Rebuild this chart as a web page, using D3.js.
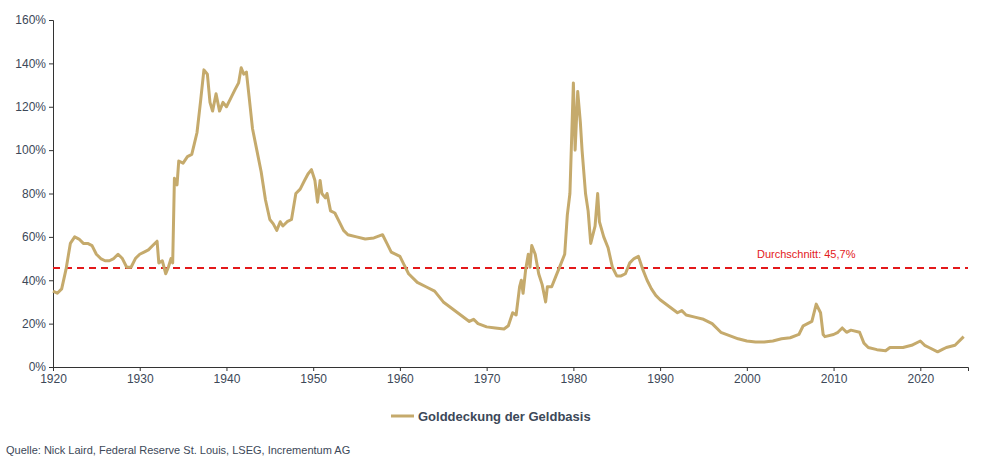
<!DOCTYPE html>
<html>
<head>
<meta charset="utf-8">
<script src="https://cdn.jsdelivr.net/npm/d3@7"></script>
<style>
body { margin: 0; background: #fff; font-family: "Liberation Sans", Arial, sans-serif; }
</style>
</head>
<body>
<svg id="chart" width="996" height="460"></svg>
<script>
// data (year, coverage %)
var years = [1920,1920.5,1921,1921.5,1922,1922.5,1923,1923.5,1924,1924.5,1925,1925.5,1926,1926.5,1927,1927.5,1928,1928.5,1929,1929.5,1930,1930.5,1931,1931.5,1932,1932.2,1932.6,1933,1933.3,1933.6,1933.8,1934,1934.3,1934.5,1935,1935.5,1936,1936.3,1936.6,1937,1937.4,1937.8,1938.1,1938.4,1938.8,1939.2,1939.6,1940,1940.5,1941,1941.4,1941.7,1942,1942.3,1942.6,1943,1943.5,1944,1944.5,1945,1945.4,1945.8,1946.2,1946.5,1947,1947.5,1948,1948.5,1949,1949.4,1949.8,1950.2,1950.5,1950.8,1951,1951.4,1951.6,1952,1952.5,1953,1953.5,1954,1955,1956,1957,1958,1958.5,1959,1960,1960.5,1961,1962,1963,1964,1965,1966,1967,1968,1968.5,1969,1970,1971,1972,1972.5,1973,1973.4,1973.8,1974,1974.2,1974.5,1974.8,1975,1975.2,1975.6,1976,1976.4,1976.8,1977,1977.5,1978,1978.5,1979,1979.3,1979.6,1980,1980.2,1980.5,1980.8,1981,1981.4,1981.7,1982,1982.5,1982.8,1983,1983.5,1984,1984.5,1985,1985.5,1986,1986.5,1987,1987.5,1988,1988.5,1989,1989.5,1990,1991,1992,1992.5,1993,1994,1995,1996,1997,1998,1999,2000,2001,2002,2003,2004,2005,2006,2006.5,2007,2007.5,2008,2008.5,2008.8,2009,2010,2010.5,2011,2011.5,2012,2013,2013.5,2014,2015,2016,2016.5,2017,2018,2019,2020,2020.5,2021,2022,2022.5,2023,2024,2025];
var coverage = [35,34,36,45,57,60,59,57,57,56,52,50,49,49,50,52,50,46,46,50,52,53,54,56,58,48,49,43,46,50,48,87,84,95,94,97,98,103,108,122,137,135,122,118,126,118,122,120,124,128,131,138,135,136,125,110,100,90,77,68,66,63,67,65,67,68,80,82,86,89,91,86,76,86,80,78,80,72,71,67,63,61,60,59,59.5,61,57,53,51,47,43,39,37,35,30,27,24,21,22,20,18.5,18,17.5,19,25,24,37,40,34,45,52,46,56,52,43,38,30,37,37,42,47,52,70,80,131,100,127,113,100,80,72,57,65,80,67,60,55,46,42,42,43,48,50,51,45,40,36,33,31,28,25,26,24,23,22,20,16,14.5,13,12,11.5,11.5,12,13,13.5,15,19,20,21,29,25,15,14,15,16,18,16,17,16,11,9,8,7.5,9,9,9,10,12,10,9,7,8,9,10,14];
var average = 45.7;
var xTicks = [1920,1930,1940,1950,1960,1970,1980,1990,2000,2010,2020];
var yTicks = [0,20,40,60,80,100,120,140,160];

var svg = d3.select("#chart");
var plotLeft = 53, plotRight = 968, plotTop = 20, plotBottom = 367;

var x = d3.scaleLinear().domain([1920, 2025.5]).range([plotLeft, plotRight]);
var y = d3.scaleLinear().domain([0, 160]).range([plotBottom, plotTop]);

var ax = "#3c4858";

// y axis
var yAxis = svg.append("g").attr("transform", "translate(" + plotLeft + ",0)")
  .call(d3.axisLeft(y).tickValues(yTicks).tickSize(4).tickFormat(function(d) { return d + "%"; }));
// x axis
var xAxis = svg.append("g").attr("transform", "translate(0," + plotBottom + ")")
  .call(d3.axisBottom(x).tickValues(xTicks).tickSize(4).tickFormat(d3.format("d")));
[yAxis, xAxis].forEach(function(g) {
  g.select(".domain").attr("stroke", "#333");
  g.selectAll(".tick line").attr("stroke", "#333");
  g.selectAll("text").attr("fill", ax).style("font-size", "12px").style("font-family", "Liberation Sans, Arial, sans-serif");
});

// average line
svg.append("line")
  .attr("x1", plotLeft).attr("x2", plotRight)
  .attr("y1", y(average)).attr("y2", y(average))
  .attr("stroke", "#e3191b").attr("stroke-width", 2).attr("stroke-dasharray", "7,5");
svg.append("text").attr("x", 757).attr("y", y(average) - 10)
  .attr("fill", "#e3191b").style("font-size", "11px").text("Durchschnitt: 45,7%");

var pts = years.map(function(d, i) { return [d, coverage[i]]; });
svg.append("path").datum(pts)
  .attr("fill", "none").attr("stroke", "#c5aa6c").attr("stroke-width", 3)
  .attr("stroke-linejoin", "round")
  .attr("d", d3.line().x(function(d) { return x(d[0]); }).y(function(d) { return y(d[1]); }));

// legend
svg.append("line").attr("x1", 391).attr("x2", 414).attr("y1", 416).attr("y2", 416)
  .attr("stroke", "#c5aa6c").attr("stroke-width", 3);
svg.append("text").attr("x", 418).attr("y", 421).attr("fill", ax)
  .style("font-size", "13px").style("font-weight", "bold").text("Golddeckung der Geldbasis");

svg.append("text").attr("x", 6).attr("y", 454).attr("fill", ax)
  .style("font-size", "11px").text("Quelle: Nick Laird, Federal Reserve St. Louis, LSEG, Incrementum AG");
</script>
</body>
</html>
